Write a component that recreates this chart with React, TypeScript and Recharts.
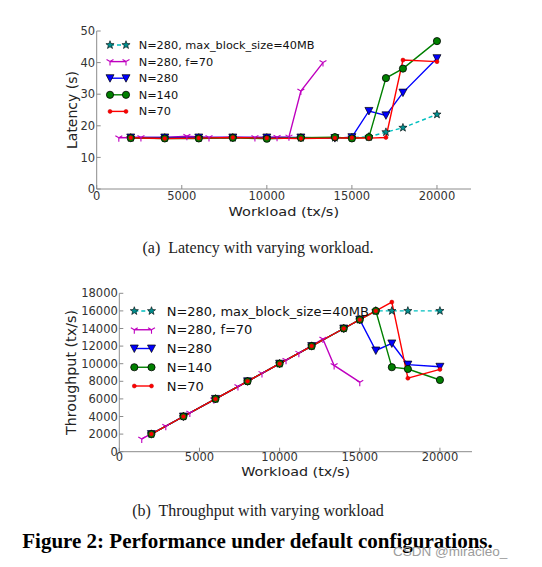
import React from 'react';
import { LineChart, Line, XAxis, YAxis, Legend, Label } from 'recharts';

const FONT = '"DejaVu Sans", sans-serif';
const SERIF = '"Liberation Serif", "DejaVu Serif", serif';
const FRAME = '#8c8c8c';
const TICK_TEXT = '#333333';

// ---------- data ----------
const workload = [2000, 4000, 6000, 8000, 10000, 12000, 14000, 15000, 16000, 17000, 18000, 20000];
const xTicks = [0, 5000, 10000, 15000, 20000];
const latencyTicks = [0, 10, 20, 30, 40, 50];
const throughputTicks = [0, 2000, 4000, 6000, 8000, 10000, 12000, 14000, 16000, 18000];

const seriesNames = ['N=280, max_block_size=40MB', 'N=280, f=70', 'N=280', 'N=140', 'N=70'];

// Latency (s)
const latBlock = [16.2, 16.2, 16.2, 16.2, 16.2, 16.2, 16.2, 16.3, 16.5, 18.0, 19.4, 23.6];
const latF70X = [1300, 2600, 4000, 5300, 6600, 8000, 9300, 10600, 11300, 12000, 13300];
const latF70 = [16.2, 16.3, 16.3, 16.7, 16.3, 16.4, 16.3, 16.4, 16.5, 31.0, 40.0];
const latN280 = [16.3, 16.3, 16.3, 16.3, 16.3, 16.3, 16.1, 16.4, 24.7, 23.3, 30.5, 41.4];
const latN140 = [16.1, 16.0, 16.0, 16.2, 15.9, 16.2, 16.4, 16.0, 16.4, 35.1, 38.1, 46.8];
const latN70 = [16.2, 16.0, 16.1, 16.3, 16.1, 16.0, 16.1, 16.2, 16.1, 16.3, 40.8, 40.3];

// Throughput (tx/s)
const tpBlock = [2000, 4000, 6000, 8000, 10000, 12000, 14000, 15000, 16000, 16000, 16000, 16000];
const tpF70X = [1400, 2900, 4400, 5900, 7400, 8900, 10400, 11200, 12700, 13400, 15000];
const tpF70 = [1450, 2900, 4400, 5900, 7400, 8900, 10400, 11200, 12800, 9800, 7900];
const tpN280 = [2000, 4000, 6000, 8000, 10000, 12000, 14000, 15000, 11500, 12300, 9900, 9650];
const tpN140 = [2000, 4000, 6000, 8000, 10000, 12000, 14000, 15000, 16000, 9600, 9400, 8150];
const tpN70 = [2000, 4000, 6000, 8000, 10000, 12000, 14000, 15000, 16000, 17000, 8350, 9350];

const zip = (xs: number[], ys: number[]) => xs.map((x, i) => ({ x, y: ys[i] }));

// ---------- styles ----------
type Kind = 'star' | 'tri' | 'vtri' | 'circle' | 'dot';
const seriesStyle: { stroke: string; dash?: string; kind: Kind }[] = [
  { stroke: '#00bfbf', dash: '4 3', kind: 'star' },
  { stroke: '#bf00bf', kind: 'tri' },
  { stroke: '#0000ff', kind: 'vtri' },
  { stroke: '#008000', kind: 'circle' },
  { stroke: '#ff0000', kind: 'dot' },
];

function starPoints(cx: number, cy: number, R: number, r: number) {
  const pts: string[] = [];
  for (let i = 0; i < 10; i++) {
    const a = -Math.PI / 2 + (i * Math.PI) / 5;
    const rad = i % 2 === 0 ? R : r;
    pts.push(`${cx + rad * Math.cos(a)},${cy + rad * Math.sin(a)}`);
  }
  return pts.join(' ');
}

function Marker({ kind, cx, cy }: { kind: Kind; cx: number; cy: number }) {
  if (cx == null || cy == null || isNaN(cx) || isNaN(cy)) return null;
  switch (kind) {
    case 'star':
      return <polygon points={starPoints(cx, cy, 4.3, 1.8)} fill="#008f8f" stroke="#000" strokeWidth={0.6} />;
    case 'tri': {
      const r = 4;
      return (
        <g stroke="#bf00bf" strokeWidth={1.1}>
          <line x1={cx} y1={cy} x2={cx} y2={cy + r} />
          <line x1={cx} y1={cy} x2={cx - 0.866 * r} y2={cy - 0.5 * r} />
          <line x1={cx} y1={cy} x2={cx + 0.866 * r} y2={cy - 0.5 * r} />
        </g>
      );
    }
    case 'vtri':
      return (
        <polygon
          points={`${cx - 4},${cy - 3.5} ${cx + 4},${cy - 3.5} ${cx},${cy + 4}`}
          fill="#0000ff"
          stroke="#000"
          strokeWidth={0.7}
        />
      );
    case 'circle':
      return <circle cx={cx} cy={cy} r={3.6} fill="#008000" stroke="#000" strokeWidth={0.8} />;
    case 'dot':
      return <circle cx={cx} cy={cy} r={2} fill="#ff0000" stroke="#c00000" strokeWidth={0.5} />;
  }
  return null;
}

const dotFor = (kind: Kind) => (p: any) => <Marker key={`m-${kind}-${p.index}`} kind={kind} cx={p.cx} cy={p.cy} />;

// ---------- ticks ----------
const bottomTick = (dy: number) => (p: any) => (
  <g key={`bt-${p.payload.value}`}>
    <line x1={p.x} x2={p.x} y1={p.y} y2={p.y - 4} stroke={FRAME} />
    <text x={p.x} y={p.y + dy} textAnchor="middle" fontSize={11.5} fill={TICK_TEXT} fontFamily={FONT}>
      {p.payload.value}
    </text>
  </g>
);
const leftTick = (p: any) => (
  <g key={`lt-${p.payload.value}`}>
    <line x1={p.x} x2={p.x + 4} y1={p.y} y2={p.y} stroke={FRAME} />
    <text x={p.x - 1.5} y={p.y} dy="0.36em" textAnchor="end" fontSize={11.5} fill={TICK_TEXT} fontFamily={FONT}>
      {p.payload.value}
    </text>
  </g>
);
const topTick = (p: any) => (
  <line key={`tt-${p.payload.value}`} x1={p.x} x2={p.x} y1={p.y} y2={p.y + 4} stroke={FRAME} />
);
const rightTick = (p: any) => (
  <line key={`rt-${p.payload.value}`} x1={p.x} x2={p.x - 4} y1={p.y} y2={p.y} stroke={FRAME} />
);

// ---------- axis labels ----------
const xLabel = (text: string, fromBottom: number, size: number, len: number) => (props: any) => {
  const vb = props.viewBox || {};
  const x = vb.x + vb.width / 2;
  const y = vb.y + vb.height - fromBottom;
  return (
    <text
      x={x}
      y={y}
      textAnchor="middle"
      fontSize={size}
      fill="#222"
      fontFamily={FONT}
      textLength={len}
      lengthAdjust="spacingAndGlyphs"
    >
      {text}
    </text>
  );
};
const yLabel = (text: string, fromLeft: number, size: number, len: number) => (props: any) => {
  const vb = props.viewBox || {};
  const cx = vb.x + fromLeft;
  const cy = vb.y + vb.height / 2;
  return (
    <text
      x={cx}
      y={cy}
      dy="0.36em"
      transform={`rotate(-90, ${cx}, ${cy})`}
      textAnchor="middle"
      fontSize={size}
      fill="#222"
      fontFamily={FONT}
      textLength={len}
      lengthAdjust="spacingAndGlyphs"
    >
      {text}
    </text>
  );
};

// ---------- legend ----------
function LegendBox({ m1, m2, tx, y0, step, fontSize }: { m1: number; m2: number; tx: number; y0: number; step: number; fontSize: number }) {
  return (
    <svg width={320} height={120} style={{ overflow: 'visible', display: 'block' }}>
      {seriesNames.map((name, i) => {
        const s = seriesStyle[i];
        const y = y0 + i * step;
        return (
          <g key={name}>
            <line x1={m1} x2={m2} y1={y} y2={y} stroke={s.stroke} strokeWidth={1.4} strokeDasharray={s.dash} />
            <Marker kind={s.kind} cx={m1} cy={y} />
            <Marker kind={s.kind} cx={m2} cy={y} />
            <text x={tx} y={y} dy="0.36em" fontSize={fontSize} fill="#111" fontFamily={FONT}>
              {name}
            </text>
          </g>
        );
      })}
    </svg>
  );
}

function renderLines(sets: { x: number; y: number }[][]) {
  return sets.map((data, i) => {
    const s = seriesStyle[i];
    return (
      <Line
        key={seriesNames[i]}
        name={seriesNames[i]}
        data={data}
        dataKey="y"
        type="linear"
        stroke={s.stroke}
        strokeWidth={1.4}
        strokeDasharray={s.dash}
        dot={dotFor(s.kind)}
        activeDot={false}
        isAnimationActive={false}
      />
    );
  });
}

const latencySets = [
  zip(workload, latBlock),
  zip(latF70X, latF70),
  zip(workload, latN280),
  zip(workload, latN140),
  zip(workload, latN70),
];
const throughputSets = [
  zip(workload, tpBlock),
  zip(tpF70X, tpF70),
  zip(workload, tpN280),
  zip(workload, tpN140),
  zip(workload, tpN70),
];

export default function App() {
  return (
    <div style={{ position: 'absolute', left: 0, top: 0, width: 542, height: 567, background: '#fff', overflow: 'hidden' }}>
      {/* Latency chart */}
      <div style={{ position: 'absolute', left: 0, top: 0 }}>
        <LineChart width={542} height={225} margin={{ top: 31, right: 71, left: 36.7, bottom: 0 }}>
          <XAxis
            dataKey="x"
            type="number"
            domain={[0, 22000]}
            ticks={xTicks}
            interval={0}
            allowDataOverflow
            height={36}
            tickSize={0}
            tickMargin={0}
            axisLine={{ stroke: FRAME }}
            tickLine={false}
            tick={bottomTick(11)}
          >
            <Label content={xLabel('Workload (tx/s)', 9.5, 12.8, 110.5)} />
          </XAxis>
          <XAxis
            xAxisId="top"
            orientation="top"
            type="number"
            domain={[0, 22000]}
            ticks={xTicks}
            interval={0}
            allowDataOverflow
            height={0}
            tickSize={0}
            tickMargin={0}
            axisLine={{ stroke: FRAME }}
            tickLine={false}
            tick={topTick}
          />
          <YAxis
            type="number"
            domain={[0, 50]}
            ticks={latencyTicks}
            interval={0}
            allowDataOverflow
            width={60}
            tickSize={0}
            tickMargin={0}
            axisLine={{ stroke: FRAME }}
            tickLine={false}
            tick={leftTick}
          >
            <Label content={yLabel('Latency (s)', 34.8, 14, 78)} />
          </YAxis>
          <YAxis
            yAxisId="right"
            orientation="right"
            type="number"
            domain={[0, 50]}
            ticks={latencyTicks}
            interval={0}
            allowDataOverflow
            width={0}
            tickSize={0}
            tickMargin={0}
            axisLine={{ stroke: FRAME }}
            tickLine={false}
            tick={rightTick}
          />
          {renderLines(latencySets)}
          <Legend
            layout="vertical"
            align="center"
            verticalAlign="middle"
            wrapperStyle={{ left: 100, top: 35, width: 320, height: 120 }}
            content={() => <LegendBox m1={10} m2={26} tx={38.7} y0={10} step={16.6} fontSize={11.3} />}
          />
        </LineChart>
      </div>

      {/* Throughput chart */}
      <div style={{ position: 'absolute', left: 0, top: 270 }}>
        <LineChart width={542} height={215} margin={{ top: 23.3, right: 70, left: 59.3, bottom: 0 }}>
          <XAxis
            dataKey="x"
            type="number"
            domain={[0, 22000]}
            ticks={xTicks}
            interval={0}
            allowDataOverflow
            height={33.3}
            tickSize={0}
            tickMargin={0}
            axisLine={{ stroke: FRAME }}
            tickLine={false}
            tick={bottomTick(9.6)}
          >
            <Label content={xLabel('Workload (tx/s)', 9, 12.7, 109)} />
          </XAxis>
          <XAxis
            xAxisId="top"
            orientation="top"
            type="number"
            domain={[0, 22000]}
            ticks={xTicks}
            interval={0}
            allowDataOverflow
            height={0}
            tickSize={0}
            tickMargin={0}
            axisLine={{ stroke: FRAME }}
            tickLine={false}
            tick={topTick}
          />
          <YAxis
            type="number"
            domain={[0, 18000]}
            ticks={throughputTicks}
            interval={0}
            allowDataOverflow
            width={60}
            tickSize={0}
            tickMargin={0}
            axisLine={{ stroke: FRAME }}
            tickLine={false}
            tick={leftTick}
          >
            <Label content={yLabel('Throughput (tx/s)', 12, 14.3, 125)} />
          </YAxis>
          <YAxis
            yAxisId="right"
            orientation="right"
            type="number"
            domain={[0, 18000]}
            ticks={throughputTicks}
            interval={0}
            allowDataOverflow
            width={0}
            tickSize={0}
            tickMargin={0}
            axisLine={{ stroke: FRAME }}
            tickLine={false}
            tick={rightTick}
          />
          {renderLines(throughputSets)}
          <Legend
            layout="vertical"
            align="center"
            verticalAlign="middle"
            wrapperStyle={{ left: 124, top: 30, width: 320, height: 120 }}
            content={() => <LegendBox m1={10.3} m2={27.5} tx={42.7} y0={11} step={18.75} fontSize={13} />}
          />
        </LineChart>
      </div>

      {/* captions */}
      <svg width={542} height={567} style={{ position: 'absolute', left: 0, top: 0, pointerEvents: 'none' }}>
        <text x={258} y={252.7} textAnchor="middle" fontSize={16} fill="#222" fontFamily={SERIF} xmlSpace="preserve">
          (a)  Latency with varying workload.
        </text>
        <text x={258} y={516} textAnchor="middle" fontSize={16} fill="#222" fontFamily={SERIF} xmlSpace="preserve">
          (b)  Throughput with varying workload
        </text>
        <text x={257.5} y={548.3} textAnchor="middle" fontSize={21} fontWeight="bold" fill="#000" fontFamily={SERIF}>
          Figure 2: Performance under default configurations.
        </text>
        <text x={393} y={556} fontSize={13.5} fill="#9c9c9c" fontFamily='"Liberation Sans", Arial, sans-serif'>
          CSDN @miracleo_
        </text>
      </svg>
    </div>
  );
}
